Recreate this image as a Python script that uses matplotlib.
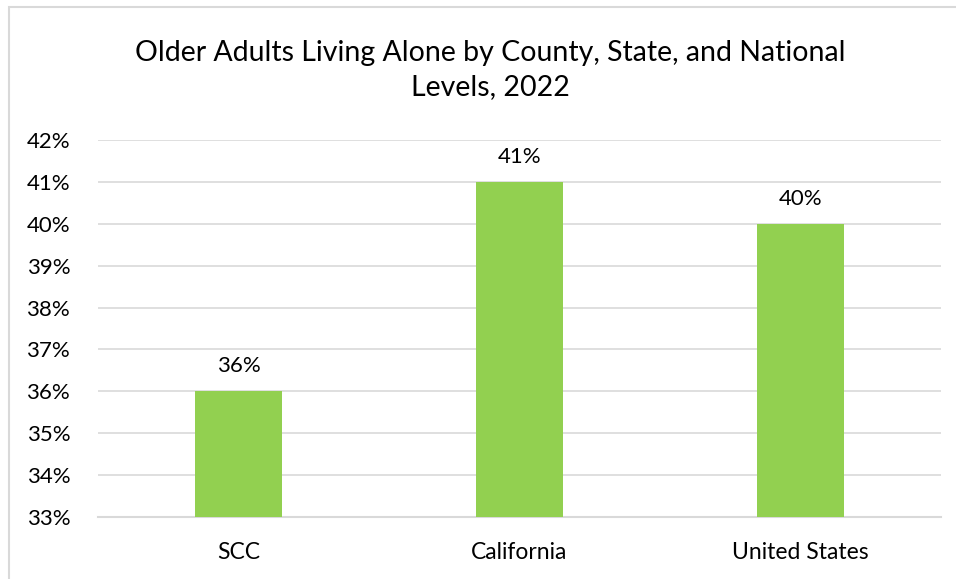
import matplotlib.pyplot as plt
from matplotlib.patches import Rectangle

# data
categories = ["SCC", "California", "United States"]
values = [36, 41, 40]
yticks = [33, 34, 35, 36, 37, 38, 39, 40, 41, 42]

plt.rcParams["font.family"] = ["Lato", "DejaVu Sans"]

W, H = 956, 579
fig = plt.figure(figsize=(W / 100, H / 100), dpi=100)

# chart frame (only left/top edges visible in the crop)
fig.patches.append(Rectangle((9 / W, -0.1), 1.2, 1 - 7 / H + 0.1,
                             transform=fig.transFigure, fill=False,
                             edgecolor="#D9D9D9", linewidth=1.5))

ax = fig.add_axes([98 / W, 1 - 517 / H, (941 - 98) / W, (517 - 140) / H])
x = list(range(len(categories)))
ax.bar(x, [v - 33 for v in values], bottom=33, width=0.313, color="#92D050", zorder=3)

ax.set_xlim(-0.5, len(categories) - 0.5)
ax.set_ylim(33, 42)
ax.set_yticks(yticks)
ax.set_yticklabels([f"{t}%" for t in yticks], fontsize=16)
ax.set_xticks(x)
ax.set_xticklabels(categories, fontsize=16.5)
ax.tick_params(length=0)
ax.tick_params(axis="y", pad=20)
ax.tick_params(axis="x", pad=18)
ax.grid(axis="y", color="#D9D9D9", linewidth=1.2, zorder=0)
for s in ["top", "right", "left"]:
    ax.spines[s].set_visible(False)
ax.spines["bottom"].set_color("#D9D9D9")
ax.spines["bottom"].set_linewidth(1.5)

for xi, v in zip(x, values):
    ax.annotate(f"{v}%", (xi, v), xytext=(0, 11), textcoords="offset points",
                ha="center", va="bottom", fontsize=16)

fig.text(490 / W, 1 - 70 / H, "Older Adults Living Alone by County, State, and National\nLevels, 2022",
         ha="center", va="center", fontsize=20.5, linespacing=1.35)

fig.savefig("out.png", dpi=100)
